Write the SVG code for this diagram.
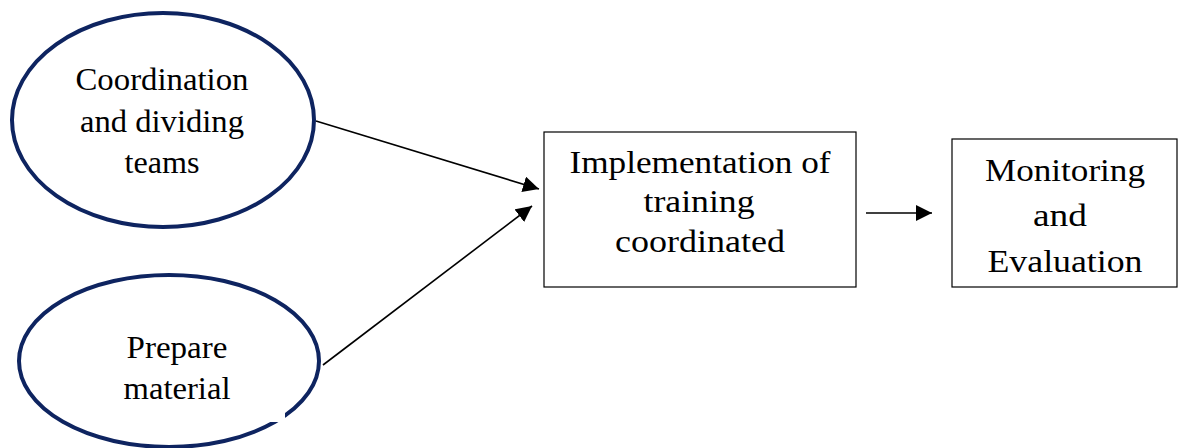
<svg xmlns="http://www.w3.org/2000/svg" width="1179" height="448" viewBox="0 0 1179 448">
<style>
.ell{fill:#fff;stroke:#0e2460;stroke-width:4}
.box{fill:#fff;stroke:#000;stroke-width:1.2}
.t{font-family:"Liberation Serif","Times New Roman",serif;font-size:31px;fill:#000;text-anchor:middle}
.ln{stroke:#000;stroke-width:1.6;fill:none}
</style>
<defs>
<marker id="ah" viewBox="0 0 10 10" refX="10" refY="5" markerWidth="16" markerHeight="16" markerUnits="userSpaceOnUse" orient="auto">
<path d="M0,0 L10,5 L0,10 Z" fill="#000"/>
</marker>
</defs>
<rect width="1179" height="448" fill="#fff"/>
<g id="coordination">
<ellipse class="ell" cx="163" cy="120" rx="151" ry="107"/>
<text class="t" x="162" y="90" textLength="173" lengthAdjust="spacingAndGlyphs">Coordination</text>
<text class="t" x="162" y="132" textLength="164" lengthAdjust="spacingAndGlyphs">and dividing</text>
<text class="t" x="162" y="173" textLength="75" lengthAdjust="spacingAndGlyphs">teams</text>
</g>
<g id="prepare">
<ellipse class="ell" cx="169" cy="361" rx="150" ry="86"/>
<rect x="262" y="404" width="23" height="18" fill="#fff"/>
<text class="t" x="177" y="358" textLength="101" lengthAdjust="spacingAndGlyphs">Prepare</text>
<text class="t" x="177" y="399" textLength="107" lengthAdjust="spacingAndGlyphs">material</text>
</g>
<g id="implementation">
<rect class="box" x="544" y="132" width="312" height="155"/>
<text class="t" x="700" y="173" textLength="261" lengthAdjust="spacingAndGlyphs">Implementation of</text>
<text class="t" x="699" y="212" textLength="111" lengthAdjust="spacingAndGlyphs">training</text>
<text class="t" x="700" y="252" textLength="170" lengthAdjust="spacingAndGlyphs">coordinated</text>
</g>
<g id="monitoring">
<rect class="box" x="952" y="139" width="225" height="148"/>
<text class="t" x="1065" y="181" textLength="160" lengthAdjust="spacingAndGlyphs">Monitoring</text>
<text class="t" x="1060" y="226" textLength="54" lengthAdjust="spacingAndGlyphs">and</text>
<text class="t" x="1065" y="272" textLength="155" lengthAdjust="spacingAndGlyphs">Evaluation</text>
</g>
<g id="connectors">
<line class="ln" x1="316" y1="121" x2="539" y2="189" marker-end="url(#ah)"/>
<line class="ln" x1="323" y1="365" x2="532" y2="206" marker-end="url(#ah)"/>
<line class="ln" x1="866" y1="213" x2="932" y2="213" marker-end="url(#ah)"/>
</g>
</svg>
